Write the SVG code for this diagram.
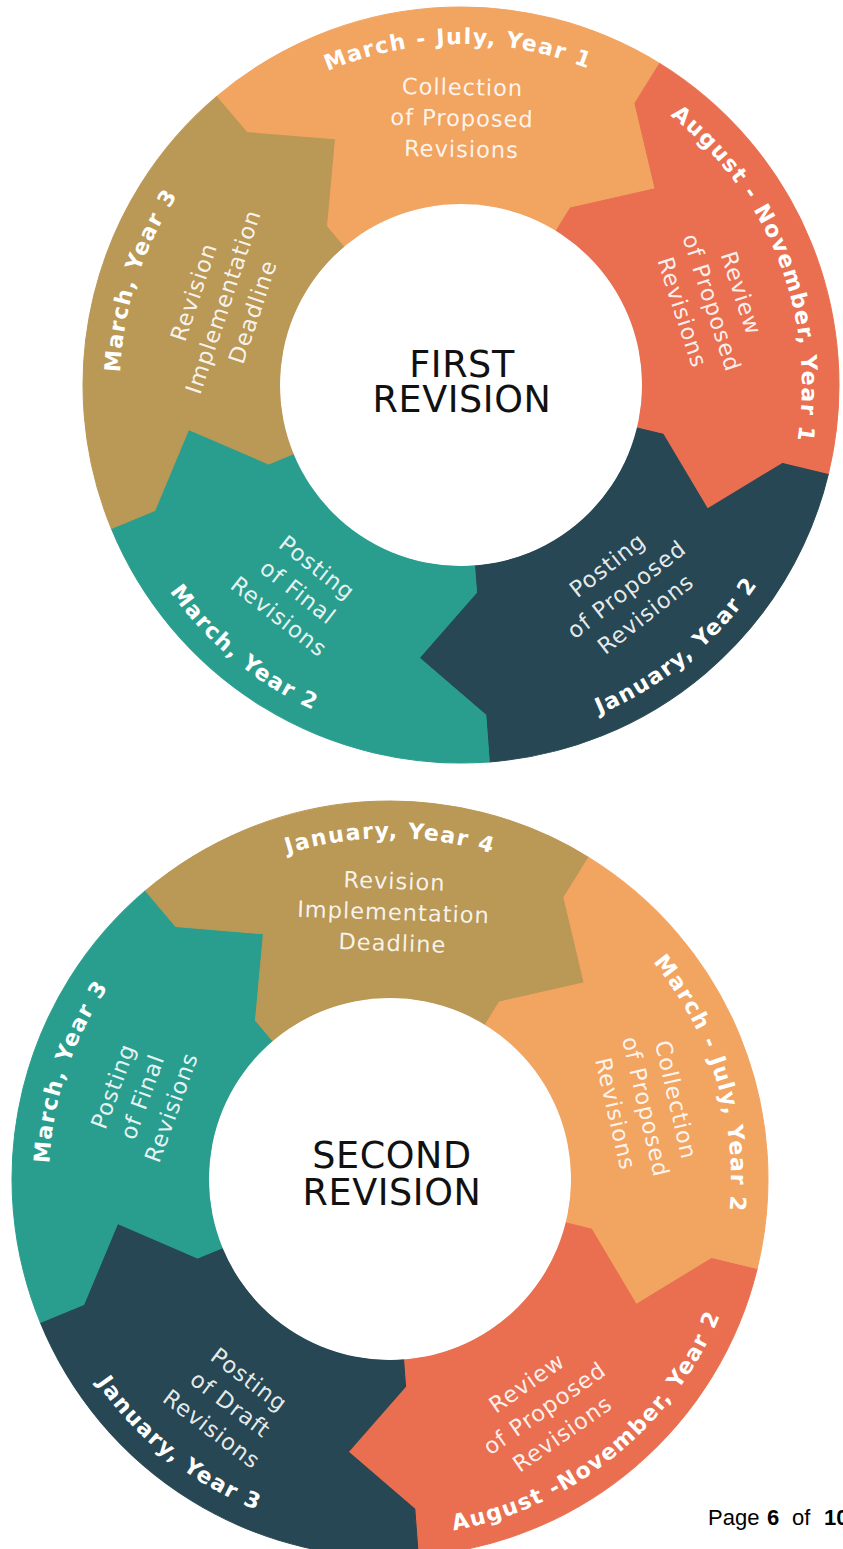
<svg xmlns="http://www.w3.org/2000/svg" width="843" height="1549" viewBox="0 0 843 1549">
<style>
.seg{stroke-width:1;stroke-linejoin:round}
.orange{fill:#F2A461;stroke:#F2A461}
.red{fill:#E96F50;stroke:#E96F50}
.dark{fill:#264753;stroke:#264753}
.teal{fill:#2A9E8E;stroke:#2A9E8E}
.gold{fill:#BA9855;stroke:#BA9855}
.date{font-family:"DejaVu Sans",Verdana,sans-serif;font-weight:bold;font-size:22px;fill:#fff;letter-spacing:1.5px}
.desc{font-family:"DejaVu Sans",Verdana,sans-serif;font-size:22.5px;fill:#fff;fill-opacity:.9;letter-spacing:1px;text-anchor:middle}
.hub{fill:#fff}
.title{font-family:"DejaVu Sans",Verdana,sans-serif;font-size:36.5px;fill:#111;text-anchor:middle;letter-spacing:0.6px}
.page{font-family:"Liberation Sans",Arial,sans-serif;font-size:22px;fill:#000}
</style>
<defs>
<path id="seg" d="M378,0 A378,378 0 0 1 116.808,359.499 L102.285,314.8 L24.055,274.95 L64.276,197.82 L55.932,172.141 A181,181 0 0 0 181,0 L208,0 L268.926,62.087 L331,0 Z"/>
<path id="cw" d="M-335.82,-59.21 A341,341 0 0 1 335.82,-59.21"/>
<path id="ccw" d="M-351.58,61.99 A357,357 0 0 0 351.58,61.99"/>
</defs>

<g id="ring1">
<g id="r1-collection">
<use href="#seg" class="seg orange" transform="translate(461,385) rotate(229.7)"/>
<text class="date" transform="translate(461,385) rotate(-0.5)"><textPath href="#cw" startOffset="50%" text-anchor="middle">March - July, Year 1</textPath></text>
<text class="desc" transform="translate(462,119) rotate(1)"><tspan x="0" y="-24">Collection</tspan><tspan x="0" y="7">of Proposed</tspan><tspan x="0" y="38">Revisions</tspan></text>
</g>
<g id="r1-review">
<use href="#seg" class="seg red" transform="translate(461,385) rotate(301.7)"/>
<text class="date" transform="translate(461,385) rotate(68.7)"><textPath href="#cw" startOffset="50%" text-anchor="middle">August - November, Year 1</textPath></text>
<text class="desc" transform="translate(711,303) rotate(72)"><tspan x="0" y="-24">Review</tspan><tspan x="0" y="7">of Proposed</tspan><tspan x="0" y="38">Revisions</tspan></text>
</g>
<g id="r1-posting-proposed">
<use href="#seg" class="seg dark" transform="translate(461,385) rotate(13.7)"/>
<text class="date" transform="translate(461,385) rotate(-39.5)"><textPath href="#ccw" startOffset="50%" text-anchor="middle">January, Year 2</textPath></text>
<text class="desc" transform="translate(627,590) rotate(-38)"><tspan x="0" y="-24">Posting</tspan><tspan x="0" y="7">of Proposed</tspan><tspan x="0" y="38">Revisions</tspan></text>
</g>
<g id="r1-posting-final">
<use href="#seg" class="seg teal" transform="translate(461,385) rotate(85.7)"/>
<text class="date" transform="translate(461,385) rotate(39.5)"><textPath href="#ccw" startOffset="50%" text-anchor="middle">March, Year 2</textPath></text>
<text class="desc" transform="translate(297.6,592.8) rotate(38)"><tspan x="0" y="-24">Posting</tspan><tspan x="0" y="7">of Final</tspan><tspan x="0" y="38">Revisions</tspan></text>
</g>
<g id="r1-deadline">
<use href="#seg" class="seg gold" transform="translate(461,385) rotate(157.7)"/>
<text class="date" transform="translate(461,385) rotate(-72)"><textPath href="#cw" startOffset="50%" text-anchor="middle">March, Year 3</textPath></text>
<text class="desc" transform="translate(224,302) rotate(-71.5)"><tspan x="0" y="-24">Revision</tspan><tspan x="0" y="7">Implementation</tspan><tspan x="0" y="38">Deadline</tspan></text>
</g>
<g id="r1-hub">
<circle class="hub" cx="461" cy="385" r="181"/>
<text class="title"><tspan x="462" y="377">FIRST</tspan><tspan x="462" y="412">REVISION</tspan></text>
</g>
</g>

<g id="ring2">
<g id="r2-review">
<use href="#seg" class="seg red" transform="translate(390,1179) rotate(13.7)"/>
<text class="date" transform="translate(390,1179) rotate(-39)"><textPath href="#ccw" startOffset="50%" text-anchor="middle">August -November, Year 2</textPath></text>
<text class="desc" transform="translate(545,1409) rotate(-35)"><tspan x="0" y="-24">Review</tspan><tspan x="0" y="7">of Proposed</tspan><tspan x="0" y="38">Revisions</tspan></text>
</g>
<g id="r2-posting-draft">
<use href="#seg" class="seg dark" transform="translate(390,1179) rotate(85.7)"/>
<text class="date" transform="translate(390,1179) rotate(38.5)"><textPath href="#ccw" startOffset="50%" text-anchor="middle">January, Year 3</textPath></text>
<text class="desc" transform="translate(230,1405) rotate(37)"><tspan x="0" y="-24">Posting</tspan><tspan x="0" y="7">of Draft</tspan><tspan x="0" y="38">Revisions</tspan></text>
</g>
<g id="r2-posting-final">
<use href="#seg" class="seg teal" transform="translate(390,1179) rotate(157.7)"/>
<text class="date" transform="translate(390,1179) rotate(-71.5)"><textPath href="#cw" startOffset="50%" text-anchor="middle">March, Year 3</textPath></text>
<text class="desc" transform="translate(143,1097) rotate(-70)"><tspan x="0" y="-24">Posting</tspan><tspan x="0" y="7">of Final</tspan><tspan x="0" y="38">Revisions</tspan></text>
</g>
<g id="r2-deadline">
<use href="#seg" class="seg gold" transform="translate(390,1179) rotate(229.7)"/>
<text class="date" transform="translate(390,1179) rotate(0)"><textPath href="#cw" startOffset="50%" text-anchor="middle">January, Year 4</textPath></text>
<text class="desc" transform="translate(393.5,913) rotate(2)"><tspan x="0" y="-24">Revision</tspan><tspan x="0" y="7">Implementation</tspan><tspan x="0" y="38">Deadline</tspan></text>
</g>
<g id="r2-collection">
<use href="#seg" class="seg orange" transform="translate(390,1179) rotate(301.7)"/>
<text class="date" transform="translate(390,1179) rotate(73)"><textPath href="#cw" startOffset="50%" text-anchor="middle">March - July, Year 2</textPath></text>
<text class="desc" transform="translate(645,1107) rotate(77)"><tspan x="0" y="-24">Collection</tspan><tspan x="0" y="7">of Proposed</tspan><tspan x="0" y="38">Revisions</tspan></text>
</g>
<g id="r2-hub">
<circle class="hub" cx="390" cy="1179" r="181"/>
<text class="title"><tspan x="392" y="1168">SECOND</tspan><tspan x="392" y="1205">REVISION</tspan></text>
</g>
</g>

<g id="connectors"/>

<g id="footer">
<text class="page" y="1525"><tspan x="708">Page</tspan><tspan x="767" font-weight="bold">6</tspan><tspan x="792">of</tspan><tspan x="824" font-weight="bold">10</tspan></text>
</g>
</svg>
